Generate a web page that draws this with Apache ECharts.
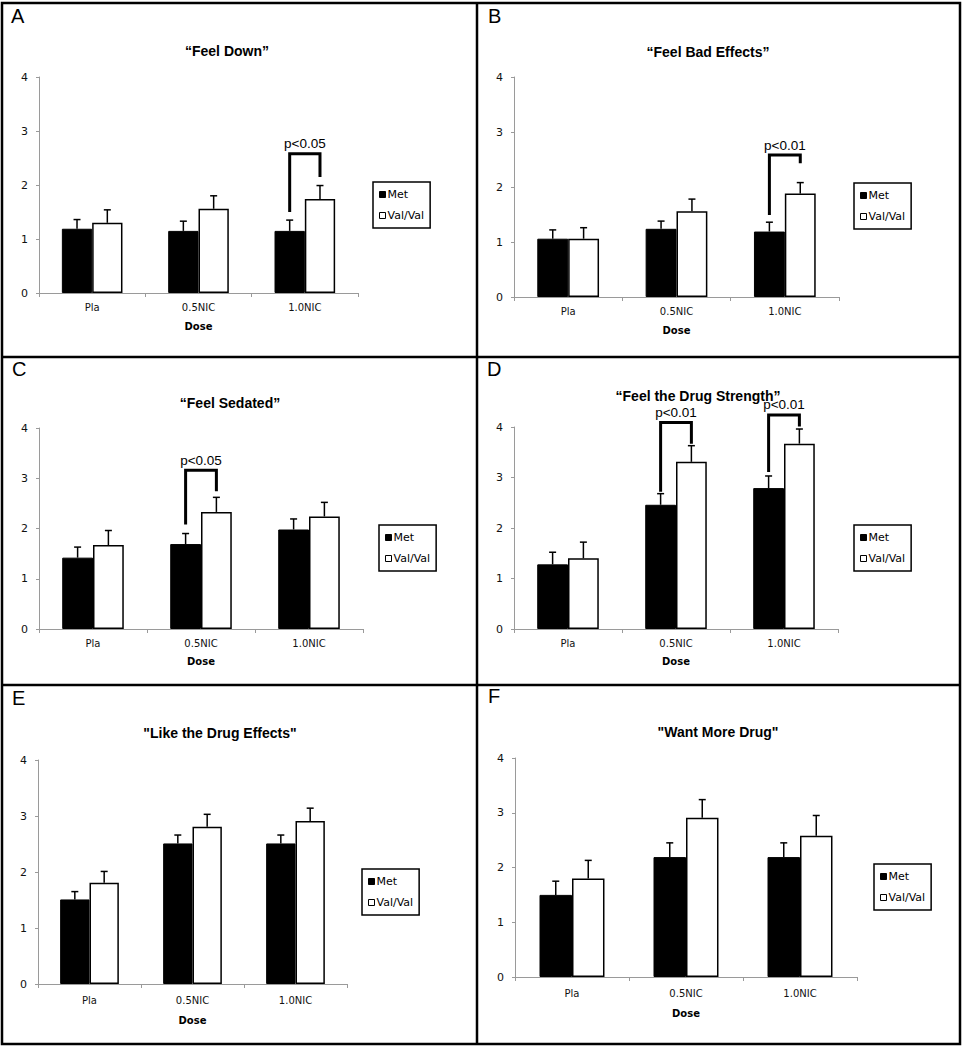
<!DOCTYPE html>
<html><head><meta charset="utf-8">
<script src="https://cdn.jsdelivr.net/npm/echarts@6/dist/echarts.min.js"></script>
<style>html,body{margin:0;padding:0;background:#fff}#c{width:962px;height:1050px}</style>
</head><body><div id="c"></div>
<script>
// ---------- data ----------
const categories = ['Pla', '0.5NIC', '1.0NIC'];
const seriesNames = ['Met', 'Val/Val'];
const axisName = 'Dose';
const yMin = 0, yMax = 4, yInterval = 1;
const panelLetters = ['A', 'B', 'C', 'D', 'E', 'F'];
const panelTitles = ['“Feel Down”', '“Feel Bad Effects”', '“Feel Sedated”', '“Feel the Drug Strength”', '"Like the Drug Effects"', '"Want More Drug"'];

const metA = [1.19, 1.15, 1.15];
const metErrA = [0.17, 0.18, 0.20];
const valA = [1.30, 1.56, 1.74];
const valErrA = [0.24, 0.24, 0.25];
const bracketsA = [{cat: 2, left: 1.50, top: 2.58, right: 2.15, label: 'p<0.05'}];

const metB = [1.06, 1.24, 1.19];
const metErrB = [0.16, 0.14, 0.17];
const valB = [1.06, 1.56, 1.88];
const valErrB = [0.20, 0.22, 0.20];
const bracketsB = [{cat: 2, left: 1.49, top: 2.58, right: 2.43, label: 'p<0.01'}];

const metC = [1.42, 1.69, 1.98];
const metErrC = [0.21, 0.21, 0.21];
const valC = [1.67, 2.33, 2.24];
const valErrC = [0.29, 0.29, 0.28];
const bracketsC = [{cat: 1, left: 2.08, top: 3.16, right: 2.74, label: 'p<0.05'}];

const metD = [1.28, 2.46, 2.79];
const metErrD = [0.24, 0.22, 0.24];
const valD = [1.40, 3.31, 3.67];
const valErrD = [0.32, 0.32, 0.29];
const bracketsD = [
  {cat: 1, left: 2.72, top: 4.09, right: 3.67, label: 'p<0.01'},
  {cat: 2, left: 3.11, top: 4.24, right: 4.01, label: 'p<0.01'}
];

const metE = [1.51, 2.51, 2.51];
const metErrE = [0.14, 0.15, 0.15];
const valE = [1.81, 2.81, 2.91];
const valErrE = [0.20, 0.22, 0.23];
const bracketsE = [];

const metF = [1.50, 2.19, 2.19];
const metErrF = [0.25, 0.26, 0.26];
const valF = [1.80, 2.91, 2.58];
const valErrF = [0.33, 0.33, 0.37];
const bracketsF = [];

const panels = [
  {met: metA, metErr: metErrA, val: valA, valErr: valErrA, brackets: bracketsA},
  {met: metB, metErr: metErrB, val: valB, valErr: valErrB, brackets: bracketsB},
  {met: metC, metErr: metErrC, val: valC, valErr: valErrC, brackets: bracketsC},
  {met: metD, metErr: metErrD, val: valD, valErr: valErrD, brackets: bracketsD},
  {met: metE, metErr: metErrE, val: valE, valErr: valErrE, brackets: bracketsE},
  {met: metF, metErr: metErrF, val: valF, valErr: valErrF, brackets: bracketsF}
];

// ---------- layout (pixels) ----------
const layout = [
  {grid: [39, 77, 319, 216], title: [227, 51], legend: [373, 182], letter: [11, 6], lm: 9, ng: 28},
  {grid: [514, 77, 325, 220], title: [708, 52], legend: [854, 183], letter: [488, 6], lm: 9, ng: 28},
  {grid: [39, 428, 324, 201], title: [230, 403], legend: [379, 525], letter: [12, 359], lm: 9, ng: 27},
  {grid: [514, 427, 324, 202], title: [698, 396], legend: [854, 525], letter: [487, 359], lm: 9, ng: 27},
  {grid: [38, 760, 309, 224], title: [220, 733], legend: [362, 869], letter: [12, 688], lm: 11, ng: 31},
  {grid: [515, 758, 342, 219], title: [718, 732], legend: [874, 864], letter: [488, 686], lm: 11, ng: 31}
];

const GAP = 0.43;
const AXIS_GRAY = '#9a9a9a';
const LABEL_FONT = '"DejaVu Sans", sans-serif';
const TITLE_FONT = '"Liberation Sans", Arial, sans-serif';

function errRender(side) {
  return function (params, api) {
    const c = api.value(0);
    const p0 = api.coord([c, api.value(1)]);
    const p1 = api.coord([c, api.value(2)]);
    const band = api.size([1, 0])[0];
    const bw = band * (1 - GAP) / 2;
    const x = p0[0] + side * bw / 2;
    return {
      type: 'group',
      children: [
        {type: 'line', shape: {x1: x, y1: p0[1], x2: x, y2: p1[1]}, style: {stroke: '#000', lineWidth: 1.5}},
        {type: 'line', shape: {x1: x - 3.5, y1: p1[1], x2: x + 3.5, y2: p1[1]}, style: {stroke: '#000', lineWidth: 1.5}}
      ]
    };
  };
}

function bracketRender(brackets) {
  return function (params, api) {
    const c = api.value(0);
    const band = api.size([1, 0])[0];
    const bw = band * (1 - GAP) / 2;
    const pl = api.coord([c, api.value(1)]);
    const pt = api.coord([c, api.value(2)]);
    const pr = api.coord([c, api.value(3)]);
    const xl = pl[0] - bw / 2, xr = pl[0] + bw / 2;
    return {
      type: 'group',
      children: [
        {type: 'polyline', shape: {points: [[xl, pl[1]], [xl, pt[1]], [xr, pt[1]], [xr, pr[1]]]},
         style: {stroke: '#000', lineWidth: 3, fill: null, lineJoin: 'miter'}},
        {type: 'text', x: (xl + xr) / 2, y: pt[1] - 10,
         style: {text: brackets[params.dataIndex].label, align: 'center', verticalAlign: 'middle',
                 fontSize: 13.5, fontFamily: TITLE_FONT, fill: '#000'}}
      ]
    };
  };
}

const grid = [], xAxis = [], yAxis = [], series = [], title = [], legend = [], graphic = [];

panels.forEach((p, i) => {
  const L = layout[i];
  grid.push({left: L.grid[0], top: L.grid[1], width: L.grid[2], height: L.grid[3], containLabel: false});
  xAxis.push({
    type: 'category', gridIndex: i, data: categories,
    name: axisName, nameLocation: 'middle', nameGap: L.ng,
    nameTextStyle: {fontFamily: LABEL_FONT, fontSize: 10, fontWeight: 'bold', color: '#000'},
    axisLine: {lineStyle: {color: AXIS_GRAY, width: 1}},
    axisTick: {show: true, length: 4, lineStyle: {color: AXIS_GRAY}},
    axisLabel: {fontFamily: LABEL_FONT, fontSize: 10, color: '#111', margin: L.lm}
  });
  yAxis.push({
    type: 'value', gridIndex: i, min: yMin, max: yMax, interval: yInterval,
    axisLine: {show: true, lineStyle: {color: AXIS_GRAY, width: 1}},
    axisTick: {show: true, length: 3, lineStyle: {color: AXIS_GRAY}},
    splitLine: {show: false},
    axisLabel: {fontFamily: LABEL_FONT, fontSize: 11, color: '#111', margin: 11}
  });
  series.push({
    name: seriesNames[0], type: 'bar', xAxisIndex: i, yAxisIndex: i, data: p.met,
    barGap: '0%', barCategoryGap: (GAP * 100) + '%',
    itemStyle: {color: '#000', borderColor: '#000', borderWidth: 1}, z: 2, silent: true
  });
  series.push({
    name: seriesNames[1], type: 'bar', xAxisIndex: i, yAxisIndex: i, data: p.val,
    barGap: '0%', barCategoryGap: (GAP * 100) + '%',
    itemStyle: {color: '#fff', borderColor: '#000', borderWidth: 1.5}, z: 2, silent: true
  });
  series.push({
    type: 'custom', xAxisIndex: i, yAxisIndex: i, z: 3, silent: true,
    data: p.met.map((v, j) => [j, v, v + p.metErr[j]]),
    encode: {x: 0, y: [1, 2]}, renderItem: errRender(-1)
  });
  series.push({
    type: 'custom', xAxisIndex: i, yAxisIndex: i, z: 3, silent: true,
    data: p.val.map((v, j) => [j, v, v + p.valErr[j]]),
    encode: {x: 0, y: [1, 2]}, renderItem: errRender(1)
  });
  if (p.brackets.length) {
    series.push({
      type: 'custom', xAxisIndex: i, yAxisIndex: i, z: 4, silent: true, clip: false,
      data: p.brackets.map(b => [b.cat, b.left, b.top, b.right]),
      encode: {x: 0, y: [1, 2, 3]}, renderItem: bracketRender(p.brackets)
    });
  }
  title.push({
    text: panelTitles[i], left: L.title[0], top: L.title[1], padding: 0,
    textAlign: 'center', textVerticalAlign: 'middle',
    textStyle: {fontFamily: TITLE_FONT, fontSize: 14, fontWeight: 'bold', color: '#000'}
  });
  legend.push({
    left: L.legend[0], top: L.legend[1], orient: 'vertical', data: seriesNames,
    icon: 'rect', itemWidth: 6, itemHeight: 6, itemGap: 10, padding: [7, 6, 7, 6],
    borderColor: '#000', borderWidth: 1.5, selectedMode: false,
    itemStyle: {borderWidth: 1},
    textStyle: {fontFamily: LABEL_FONT, fontSize: 11, color: '#000', padding: [0, 0, 0, -3]}
  });
  graphic.push({
    type: 'text', left: L.letter[0], top: L.letter[1], silent: true,
    style: {text: panelLetters[i], fontFamily: TITLE_FONT, fontSize: 20, fill: '#000'}
  });
});

// panel frames
graphic.push({type: 'rect', silent: true, shape: {x: 2, y: 3, width: 958, height: 1041}, style: {fill: null, stroke: '#000', lineWidth: 2.5}});
graphic.push({type: 'line', silent: true, shape: {x1: 477, y1: 3, x2: 477, y2: 1044}, style: {stroke: '#000', lineWidth: 2.5}});
graphic.push({type: 'line', silent: true, shape: {x1: 2, y1: 357, x2: 960, y2: 357}, style: {stroke: '#000', lineWidth: 2.5}});
graphic.push({type: 'line', silent: true, shape: {x1: 2, y1: 685, x2: 960, y2: 685}, style: {stroke: '#000', lineWidth: 2.5}});

const chart = echarts.init(document.getElementById('c'), null, {renderer: 'svg', width: 962, height: 1050});
chart.setOption({
  backgroundColor: '#fff',
  animation: false,
  title, legend, grid, xAxis, yAxis, series, graphic
});
</script>
</body></html>
